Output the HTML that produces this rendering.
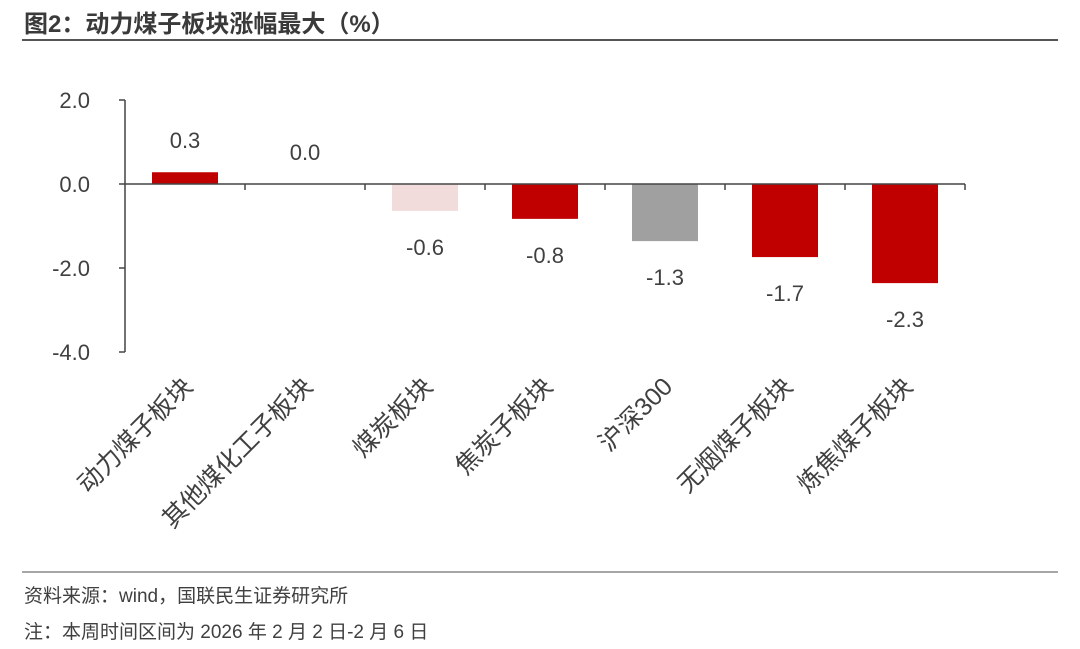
<!DOCTYPE html>
<html><head><meta charset="utf-8"><style>
body{margin:0;background:#fff;width:1080px;height:644px;overflow:hidden;font-family:"Liberation Sans","Noto Sans CJK SC",sans-serif;}
</style></head><body>
<svg width="1080" height="644" xmlns="http://www.w3.org/2000/svg">
<text x="24" y="32" font-size="24" font-weight="bold" fill="#3a3a3a" font-family="Liberation Sans,Noto Sans CJK SC,sans-serif">图2：动力煤子板块涨幅最大（%）</text>
<line x1="22" y1="40" x2="1058" y2="40" stroke="#555" stroke-width="2"/>
<g id="plot"></g>
<line x1="22" y1="572" x2="1058" y2="572" stroke="#888" stroke-width="1.5"/>
<text x="24" y="602" font-size="19" fill="#404040" font-family="Liberation Sans,Noto Sans CJK SC,sans-serif">资料来源：wind，国联民生证券研究所</text>
<text x="24" y="638" font-size="19" fill="#404040" font-family="Liberation Sans,Noto Sans CJK SC,sans-serif">注：本周时间区间为 2026 年 2 月 2 日-2 月 6 日</text>
</svg>
<script>
const categories=["动力煤子板块","其他煤化工子板块","煤炭板块","焦炭子板块","沪深300","无烟煤子板块","炼焦煤子板块"];
const values=[0.28,0.0,-0.64,-0.83,-1.36,-1.74,-2.36];
const valueLabels=["0.3","0.0","-0.6","-0.8","-1.3","-1.7","-2.3"];
const barColors=["#C00000","#C00000","#F2DCDB","#C00000","#A0A0A0","#C00000","#C00000"];
const yTicks=[2,0,-2,-4];
const yTickLabels=["2.0","0.0","-2.0","-4.0"];
const NS="http://www.w3.org/2000/svg";
const g=document.getElementById("plot");
const x0=125,x1=965,yMax=2,yMin=-4,yTop=100,yBot=352;
const y=v=>yTop+(yMax-v)/(yMax-yMin)*(yBot-yTop);
const band=(x1-x0)/categories.length;
const xc=i=>x0+band*(i+0.5);
function mk(t,a){const e=document.createElementNS(NS,t);for(const k in a)e.setAttribute(k,a[k]);g.appendChild(e);return e;}
const FF="Liberation Sans,Noto Sans CJK SC,sans-serif";
let ax=mk("line",{x1:x0,y1:yTop,x2:x0,y2:yBot,stroke:"#444","stroke-width":1.5});


yTicks.forEach((v,i)=>{
 const t=mk("line",{x1:x0-6,y1:y(v),x2:x0,y2:y(v),stroke:"#444","stroke-width":1.5});
 
 
 const l=mk("text",{x:x0-35,y:y(v)+8,"font-size":22,fill:"#404040","text-anchor":"end","font-family":FF});
 l.textContent=yTickLabels[i];
 
 
});
categories.forEach((c,i)=>{
 const v=values[i];
 const bw=66;
 if(v!==0){
  const r=mk("rect",{x:xc(i)-bw/2,y:Math.min(y(v),y(0)),width:bw,height:Math.abs(y(v)-y(0)),fill:barColors[i]});
  
  
 }
 const ly=v>=0?y(Math.max(v,0))-24:y(v)+44;
 const vl=mk("text",{x:xc(i),y:v===0?y(0)-24:ly,"font-size":22,fill:"#404040","text-anchor":"middle","font-family":FF});
 vl.textContent=valueLabels[i];
 
 
 const cl=mk("text",{x:0,y:0,"font-size":25,fill:"#404040","text-anchor":"end","font-family":FF,transform:`translate(${xc(i)+9},${y(yMin)+36}) rotate(-45)`});
 cl.textContent=c;
 
 
});
for(let i=1;i<=categories.length;i++){
 const t=mk("line",{x1:x0+band*i,y1:y(0),x2:x0+band*i,y2:y(0)+6,stroke:"#444","stroke-width":1.5});
 
 
}
const xa=mk("line",{x1:x0,y1:y(0),x2:x1,y2:y(0),stroke:"#444","stroke-width":1.5});


</script>
</body></html>
